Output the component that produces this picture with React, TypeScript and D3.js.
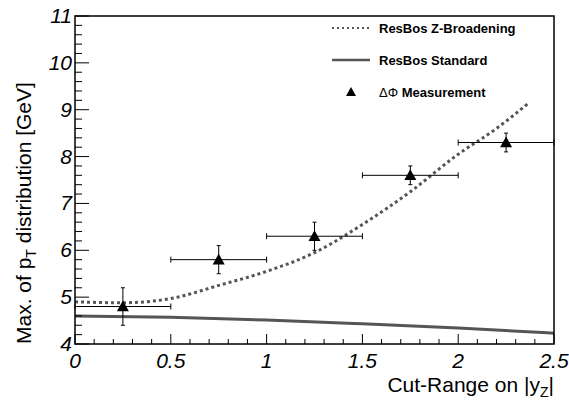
import React from 'react';
import * as d3 from 'd3';

const pointX = [0.25, 0.75, 1.25, 1.75, 2.25];
const pointY = [4.8, 5.8, 6.3, 7.6, 8.3];
const pointErrY = [0.4, 0.3, 0.3, 0.2, 0.2];
const pointErrX = [0.25, 0.25, 0.25, 0.25, 0.25];

const broadX = [0, 0.25, 0.5, 0.75, 1.0, 1.25, 1.5, 1.75, 2.0, 2.2, 2.37];
const broadY = [4.9, 4.88, 4.97, 5.25, 5.55, 5.95, 6.55, 7.25, 8.05, 8.6, 9.15];

const stdX = [0, 0.5, 1.0, 1.5, 2.0, 2.5];
const stdY = [4.6, 4.57, 4.51, 4.43, 4.34, 4.23];

const xTicks = [0, 0.5, 1, 1.5, 2, 2.5];
const yTicks = [4, 5, 6, 7, 8, 9, 10, 11];

const W = 569;
const H = 403;
const L = 75, R = 554, T = 16, B = 344;

export default function App() {
  const x = d3.scaleLinear().domain([0, 2.5]).range([L, R]);
  const y = d3.scaleLinear().domain([4, 11]).range([B, T]);
  const font = 'Liberation Sans, Arial, sans-serif';
  const line = d3.line<[number, number]>().x((d) => x(d[0])).y((d) => y(d[1])).curve(d3.curveMonotoneX);
  const broad = line(broadX.map((v, i) => [v, broadY[i]]))!;
  const std = line(stdX.map((v, i) => [v, stdY[i]]))!;
  const tri = (cx: number, cy: number, s = 6) => `M${cx},${cy - s} L${cx + s},${cy + s * 0.8} L${cx - s},${cy + s * 0.8} Z`;
  const minorX = d3.range(0, 2.5001, 0.1);
  const minorY = d3.range(4, 11.001, 0.2);
  return (
    <svg width={W} height={H} style={{ position: 'absolute', left: 0, top: 0, fontFamily: font }}>
      <rect x={0} y={0} width={W} height={H} fill="white" />
      <path d={std} fill="none" stroke="#555" strokeWidth={3} />
      <path d={broad} fill="none" stroke="#555" strokeWidth={3} strokeDasharray="3,3" />
      {pointX.map((px, i) => (
        <g key={i} stroke="black" strokeWidth={1}>
          <line x1={x(px - pointErrX[i])} x2={x(px + pointErrX[i])} y1={y(pointY[i])} y2={y(pointY[i])} />
          <line x1={x(px)} x2={x(px)} y1={y(pointY[i] - pointErrY[i])} y2={y(pointY[i] + pointErrY[i])} />
          <line x1={x(px - pointErrX[i])} x2={x(px - pointErrX[i])} y1={y(pointY[i]) - 3} y2={y(pointY[i]) + 3} />
          <line x1={x(px + pointErrX[i])} x2={x(px + pointErrX[i])} y1={y(pointY[i]) - 3} y2={y(pointY[i]) + 3} />
          <line x1={x(px) - 2} x2={x(px) + 2} y1={y(pointY[i] - pointErrY[i])} y2={y(pointY[i] - pointErrY[i])} />
          <line x1={x(px) - 2} x2={x(px) + 2} y1={y(pointY[i] + pointErrY[i])} y2={y(pointY[i] + pointErrY[i])} />
          <path d={tri(x(px), y(pointY[i]))} fill="black" stroke="none" />
        </g>
      ))}
      <rect x={L} y={T} width={R - L} height={B - T} fill="none" stroke="black" strokeWidth={1.5} />
      {minorX.map((v, i) => {
        const major = Math.abs(v * 2 - Math.round(v * 2)) < 1e-6;
        return <line key={'mx' + i} x1={x(v)} x2={x(v)} y1={B} y2={B - (major ? 10 : 5)} stroke="black" />;
      })}
      {minorY.map((v, i) => {
        const major = Math.abs(v - Math.round(v)) < 1e-6;
        return <line key={'my' + i} x1={L} x2={L + (major ? 14 : 7)} y1={y(v)} y2={y(v)} stroke="black" />;
      })}
      {xTicks.map((v) => (
        <text key={'xt' + v} x={x(v)} y={B + 24} fontSize={21} fontStyle="italic" textAnchor="middle">{v}</text>
      ))}
      {yTicks.map((v) => (
        <text key={'yt' + v} x={L - 3} y={y(v) + 7} fontSize={21} fontStyle="italic" textAnchor="end">{v}</text>
      ))}
      <text x={R} y={392} fontSize={21} textAnchor="end">
        Cut-Range on |y<tspan fontSize={14} dy={5}>Z</tspan><tspan dy={-5}>|</tspan>
      </text>
      <text transform={`translate(31,${B}) rotate(-90)`} fontSize={21} textAnchor="start">
        Max. of p<tspan fontSize={14} dy={5}>T</tspan><tspan dy={-5}> distribution [GeV]</tspan>
      </text>
      <g fontSize={13} fontWeight="bold">
        <line x1={332} x2={370} y1={28} y2={28} stroke="#555" strokeWidth={2} strokeDasharray="2,3" />
        <text x={379} y={33}>ResBos Z-Broadening</text>
        <line x1={332} x2={370} y1={60} y2={60} stroke="#555" strokeWidth={2.5} />
        <text x={379} y={65}>ResBos Standard</text>
        <path d={tri(351, 92, 5)} fill="black" />
        <text x={379} y={97}><tspan fontWeight="normal">ΔΦ</tspan> Measurement</text>
      </g>
    </svg>
  );
}
